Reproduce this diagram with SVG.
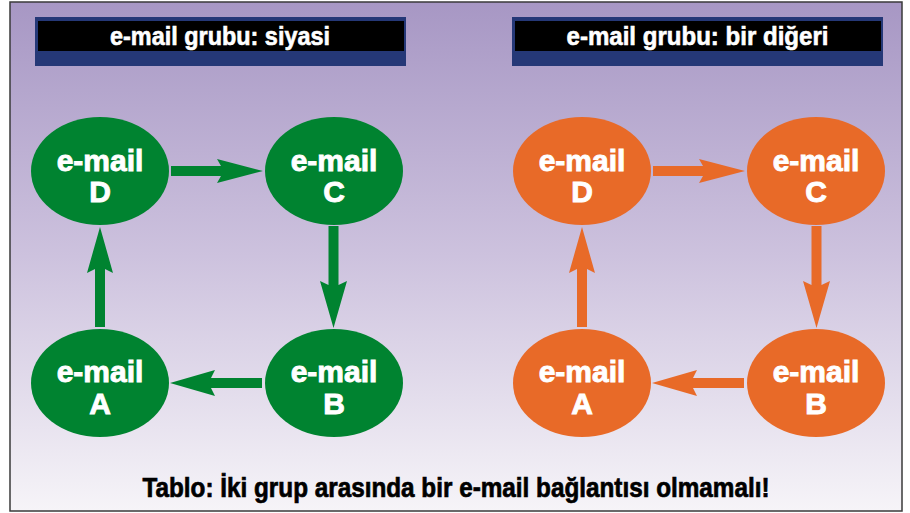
<svg xmlns="http://www.w3.org/2000/svg" width="910" height="513" viewBox="0 0 910 513">
<defs>
<linearGradient id="bg" x1="0" y1="0" x2="0" y2="1">
<stop offset="0" stop-color="#a797c4"/>
<stop offset="0.5" stop-color="#cdc2de"/>
<stop offset="1" stop-color="#f6f4f8"/>
</linearGradient>
</defs>
<style>
.g{fill:#008330}
.o{fill:#e86a28}
.lbl{font-family:"Liberation Sans",Arial,sans-serif;font-weight:bold;font-size:30px;fill:#fff;stroke:#fff;stroke-width:0.9px;text-anchor:middle}
.ttl{font-family:"Liberation Sans",Arial,sans-serif;font-weight:bold;font-size:26px;fill:#fff;stroke:#fff;stroke-width:0.6px;text-anchor:middle}
.navy{fill:#253877}
</style>
<rect x="0" y="0" width="910" height="513" fill="#fff"/>
<rect x="10" y="2" width="892" height="509" fill="url(#bg)" stroke="#3a3a3a" stroke-width="1.5"/>
<g id="title-left">
<rect class="navy" x="35" y="17" width="371" height="49"/>
<rect x="38" y="21" width="366" height="30" fill="#000"/>
<text class="ttl" x="220" y="45" textLength="220" lengthAdjust="spacingAndGlyphs">e-mail grubu: siyasi</text>
</g>
<g id="title-right">
<rect class="navy" x="512" y="17" width="371" height="49"/>
<rect x="515" y="21" width="366" height="30" fill="#000"/>
<text class="ttl" x="697.5" y="45" textLength="262" lengthAdjust="spacingAndGlyphs">e-mail grubu: bir diğeri</text>
</g>
<g id="connectors">
<path class="g" d="M171,166 H221 L217,159 L263,171 L217,183 L221,176 H171 Z"/>
<path class="g" d="M328.5,226 V285 L320,281 L333.5,328 L347,281 L338.5,285 V226 Z"/>
<path class="g" d="M262,378 H211 L215,370 L170,383 L215,396 L211,388 H262 Z"/>
<path class="g" d="M95,327 V269 L87,273 L100,227 L113,273 L105,269 V327 Z"/>
<path class="o" d="M653,166 H703 L699,159 L745,171 L699,183 L703,176 H653 Z"/>
<path class="o" d="M811.5,226 V285 L803,281 L816.5,328 L830,281 L821.5,285 V226 Z"/>
<path class="o" d="M744,378 H693 L697,370 L652,383 L697,396 L693,388 H744 Z"/>
<path class="o" d="M577,327 V269 L569,273 L582,227 L595,273 L587,269 V327 Z"/>
</g>
<g id="left-D"><ellipse class="g" cx="100" cy="171" rx="69" ry="54"/><text class="lbl" x="100" y="171">e-mail</text><text class="lbl" x="100" y="202">D</text></g>
<g id="left-C"><ellipse class="g" cx="334" cy="171" rx="69" ry="54"/><text class="lbl" x="334" y="171">e-mail</text><text class="lbl" x="334" y="202">C</text></g>
<g id="left-A"><ellipse class="g" cx="100" cy="383" rx="69" ry="54"/><text class="lbl" x="100" y="382">e-mail</text><text class="lbl" x="100" y="414">A</text></g>
<g id="left-B"><ellipse class="g" cx="334" cy="383" rx="69" ry="54"/><text class="lbl" x="334" y="382">e-mail</text><text class="lbl" x="334" y="414">B</text></g>
<g id="right-D"><ellipse class="o" cx="582" cy="171" rx="69" ry="54"/><text class="lbl" x="582" y="171">e-mail</text><text class="lbl" x="582" y="202">D</text></g>
<g id="right-C"><ellipse class="o" cx="816" cy="171" rx="69" ry="54"/><text class="lbl" x="816" y="171">e-mail</text><text class="lbl" x="816" y="202">C</text></g>
<g id="right-A"><ellipse class="o" cx="582" cy="383" rx="69" ry="54"/><text class="lbl" x="582" y="382">e-mail</text><text class="lbl" x="582" y="414">A</text></g>
<g id="right-B"><ellipse class="o" cx="816" cy="383" rx="69" ry="54"/><text class="lbl" x="816" y="382">e-mail</text><text class="lbl" x="816" y="414">B</text></g>
<g id="caption">
<text x="456" y="497" font-family="'Liberation Sans',Arial,sans-serif" font-weight="bold" font-size="28" fill="#000" stroke="#000" stroke-width="0.7" text-anchor="middle" textLength="627" lengthAdjust="spacingAndGlyphs">Tablo: İki grup arasında bir e-mail bağlantısı olmamalı!</text>
</g>
</svg>
